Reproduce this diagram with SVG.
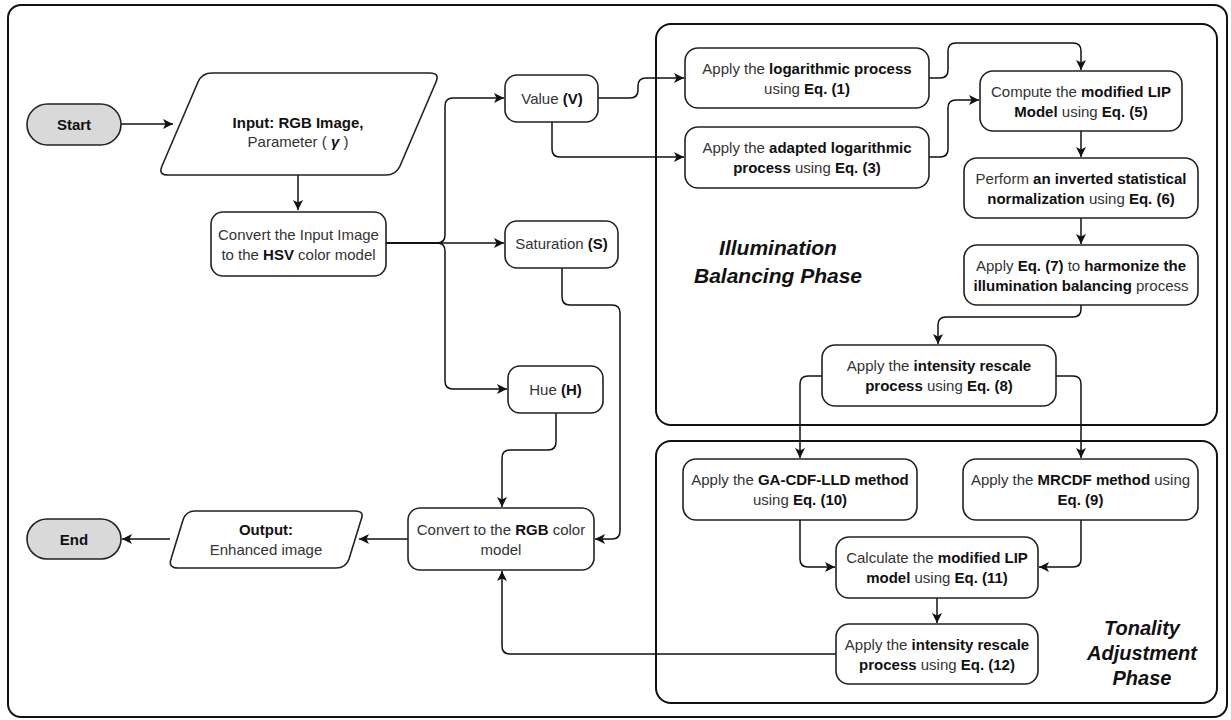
<svg xmlns="http://www.w3.org/2000/svg" width="1231" height="720" viewBox="0 0 1231 720">
<defs>
<style>
.frame{fill:none;stroke:#111;stroke-width:2}
.phase{fill:none;stroke:#111;stroke-width:2}
.box{fill:#fff;stroke:#222;stroke-width:1.6}
.term{fill:#d9d9d9;stroke:#222;stroke-width:1.6}
.t{font-family:"Liberation Sans",Arial,sans-serif;font-size:15px;fill:#333;text-anchor:middle}
.b{font-weight:bold;fill:#111}
.ph{font-family:"Liberation Sans",Arial,sans-serif;font-weight:bold;font-style:italic;fill:#111;text-anchor:middle}
.c{fill:none;stroke:#111;stroke-width:1.5;marker-end:url(#ah)}
.cn{fill:none;stroke:#111;stroke-width:1.5}
</style>
<marker id="ah" viewBox="0 0 10 10" refX="10" refY="5" markerWidth="10" markerHeight="10" markerUnits="userSpaceOnUse" orient="auto">
<path d="M0,0 L10,5 L0,10 L2.5,5 z" fill="#111"/>
</marker>
</defs>
<rect x="0" y="0" width="1231" height="720" fill="#fff"/>
<rect class="frame" x="8" y="5" width="1219" height="712" rx="13"/>
<g id="phase-illumination">
<rect class="phase" x="656" y="24" width="561" height="401" rx="15"/>
<text class="ph" font-size="21"><tspan x="778" y="255">Illumination</tspan><tspan x="778" y="283">Balancing Phase</tspan></text>
</g>
<g id="phase-tonality">
<rect class="phase" x="656" y="441" width="561" height="262" rx="15"/>
<text class="ph" font-size="20"><tspan x="1142" y="635">Tonality</tspan><tspan x="1142" y="660">Adjustment</tspan><tspan x="1142" y="685">Phase</tspan></text>
</g>
<g id="connectors">
<path class="c" d="M121,124 H173"/>
<path class="c" d="M298,175 V210"/>
<path class="c" d="M386,243 H437 Q445,243 445,235 V106 Q445,98 453,98 H504"/>
<path class="c" d="M386,243 H504"/>
<path class="c" d="M386,243 H437 Q445,243 445,251 V381 Q445,389 453,389 H507"/>
<path class="c" d="M598,98 H630 Q638,98 638,90 V86 Q638,78 646,78 H684"/>
<path class="c" d="M552,122 V149 Q552,157 560,157 H684"/>
<path class="c" d="M929,78 H940 Q948,78 948,70 V51 Q948,43 956,43 H1073 Q1081,43 1081,51 V70"/>
<path class="c" d="M929,157 H940 Q948,157 948,149 V108 Q948,100 956,100 H979"/>
<path class="c" d="M1081,131 V157"/>
<path class="c" d="M1081,218 V244"/>
<path class="c" d="M1081,305 V309 Q1081,317 1073,317 H946 Q938,317 938,325 V344"/>
<path class="c" d="M822,376 H808 Q800,376 800,384 V458"/>
<path class="c" d="M1056,376 H1073 Q1081,376 1081,384 V458"/>
<path class="c" d="M800,520 V559 Q800,567 808,567 H835"/>
<path class="c" d="M1081,520 V559 Q1081,567 1073,567 H1039"/>
<path class="c" d="M937,598 V623"/>
<path class="c" d="M836,654 H510 Q502,654 502,646 V571"/>
<path class="c" d="M556,413 V442 Q556,450 548,450 H510 Q502,450 502,458 V507"/>
<path class="c" d="M562,268 V297 Q562,305 570,305 H612 Q620,305 620,313 V531 Q620,539 612,539 H595"/>
<path class="c" d="M408,539 H359"/>
<path class="c" d="M170,539 H122"/>
</g>
<g id="start">
<rect class="term" x="27" y="104" width="94" height="41" rx="20.5"/>
<text class="t b" x="74" y="130">Start</text>
</g>
<g id="input">
<path class="box" d="M212,73 H430 Q440,73 436,82 L400,166 Q396,175 386,175 H168 Q158,175 162,166 L198,82 Q202,73 212,73 Z"/>
<text class="t"><tspan x="298" y="128" class="b">Input: RGB Image,</tspan><tspan x="298" y="147">Parameter ( <tspan class="b" font-style="italic">γ</tspan> )</tspan></text>
</g>
<g id="convert-hsv">
<rect class="box" x="211" y="212" width="175" height="64" rx="12"/>
<text class="t"><tspan x="298.5" y="240">Convert the Input Image</tspan><tspan x="298.5" y="260">to the <tspan class="b">HSV</tspan> color model</tspan></text>
</g>
<g id="value">
<rect class="box" x="505" y="75" width="93" height="47" rx="12"/>
<text class="t" x="552" y="104">Value <tspan class="b">(V)</tspan></text>
</g>
<g id="saturation">
<rect class="box" x="505" y="221" width="113" height="47" rx="12"/>
<text class="t" x="561.5" y="249">Saturation <tspan class="b">(S)</tspan></text>
</g>
<g id="hue">
<rect class="box" x="508" y="366" width="95" height="47" rx="12"/>
<text class="t" x="555.5" y="395">Hue <tspan class="b">(H)</tspan></text>
</g>
<g id="convert-rgb">
<rect class="box" x="408" y="508" width="186" height="62" rx="12"/>
<text class="t"><tspan x="501" y="535">Convert to the <tspan class="b">RGB</tspan> color</tspan><tspan x="501" y="555">model</tspan></text>
</g>
<g id="output">
<path class="box" d="M195,511 H355 Q365,511 361,520 L349,559 Q346,568 336,568 H178 Q168,568 171,559 L183,520 Q186,511 195,511 Z"/>
<text class="t"><tspan x="266" y="535" class="b">Output:</tspan><tspan x="266" y="555">Enhanced image</tspan></text>
</g>
<g id="end">
<rect class="term" x="27" y="519" width="94" height="40" rx="20"/>
<text class="t b" x="74" y="545">End</text>
</g>
<g id="log-process">
<rect class="box" x="685" y="48" width="244" height="60" rx="13"/>
<text class="t"><tspan x="807" y="74">Apply the <tspan class="b">logarithmic process</tspan></tspan><tspan x="807" y="94">using <tspan class="b">Eq. (1)</tspan></tspan></text>
</g>
<g id="adapted-log">
<rect class="box" x="685" y="127" width="244" height="61" rx="13"/>
<text class="t"><tspan x="807" y="153">Apply the <tspan class="b">adapted logarithmic</tspan></tspan><tspan x="807" y="173"><tspan class="b">process</tspan> using <tspan class="b">Eq. (3)</tspan></tspan></text>
</g>
<g id="modified-lip">
<rect class="box" x="980" y="71" width="202" height="60" rx="13"/>
<text class="t"><tspan x="1081" y="97">Compute the <tspan class="b">modified LIP</tspan></tspan><tspan x="1081" y="117"><tspan class="b">Model</tspan> using <tspan class="b">Eq. (5)</tspan></tspan></text>
</g>
<g id="inverted-norm">
<rect class="box" x="964" y="158" width="234" height="60" rx="13"/>
<text class="t"><tspan x="1081" y="184">Perform <tspan class="b">an inverted statistical</tspan></tspan><tspan x="1081" y="204"><tspan class="b">normalization</tspan> using <tspan class="b">Eq. (6)</tspan></tspan></text>
</g>
<g id="harmonize">
<rect class="box" x="964" y="245" width="234" height="60" rx="13"/>
<text class="t"><tspan x="1081" y="271">Apply <tspan class="b">Eq. (7)</tspan> to <tspan class="b">harmonize the</tspan></tspan><tspan x="1081" y="291"><tspan class="b">illumination balancing</tspan> process</tspan></text>
</g>
<g id="rescale-8">
<rect class="box" x="822" y="345" width="234" height="61" rx="13"/>
<text class="t"><tspan x="939" y="371">Apply the <tspan class="b">intensity rescale</tspan></tspan><tspan x="939" y="391"><tspan class="b">process</tspan> using <tspan class="b">Eq. (8)</tspan></tspan></text>
</g>
<g id="ga-cdf-lld">
<rect class="box" x="683" y="459" width="234" height="61" rx="13"/>
<text class="t"><tspan x="800" y="485">Apply the <tspan class="b">GA-CDF-LLD method</tspan></tspan><tspan x="800" y="505">using <tspan class="b">Eq. (10)</tspan></tspan></text>
</g>
<g id="mrcdf">
<rect class="box" x="963" y="459" width="235" height="61" rx="13"/>
<text class="t"><tspan x="1080.5" y="485">Apply the <tspan class="b">MRCDF method</tspan> using</tspan><tspan x="1080.5" y="505" class="b">Eq. (9)</tspan></text>
</g>
<g id="calc-lip">
<rect class="box" x="836" y="537" width="202" height="61" rx="13"/>
<text class="t"><tspan x="937" y="563">Calculate the <tspan class="b">modified LIP</tspan></tspan><tspan x="937" y="583"><tspan class="b">model</tspan> using <tspan class="b">Eq. (11)</tspan></tspan></text>
</g>
<g id="rescale-12">
<rect class="box" x="836" y="624" width="202" height="60" rx="13"/>
<text class="t"><tspan x="937" y="650">Apply the <tspan class="b">intensity rescale</tspan></tspan><tspan x="937" y="670"><tspan class="b">process</tspan> using <tspan class="b">Eq. (12)</tspan></tspan></text>
</g>
</svg>
